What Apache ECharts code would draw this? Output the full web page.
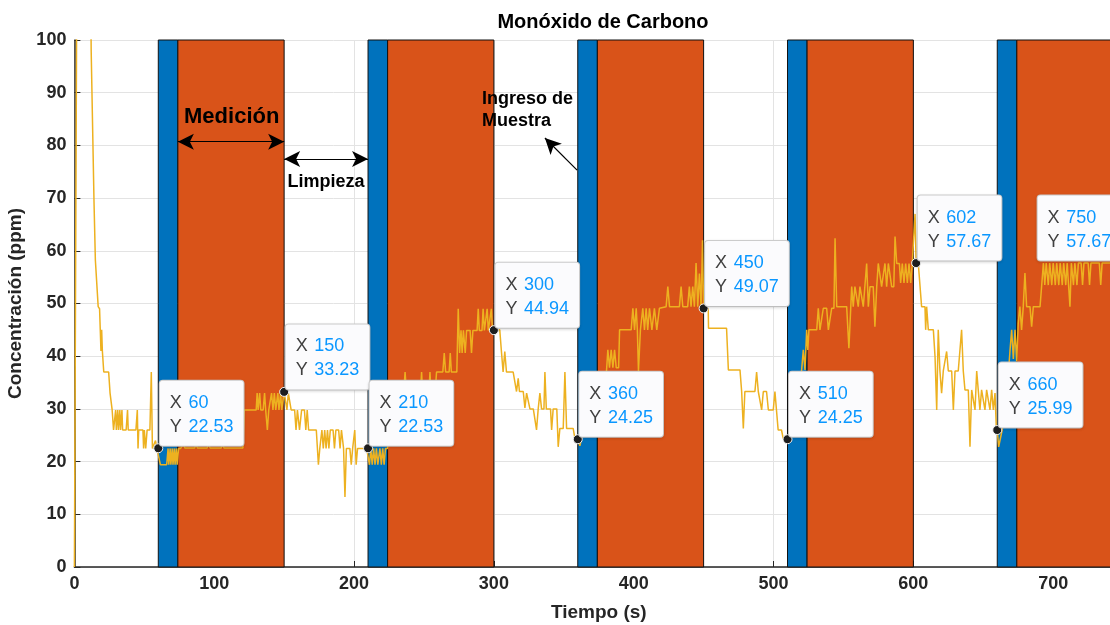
<!DOCTYPE html>
<html lang="es">
<head>
  <meta charset="UTF-8">
  <title>Monóxido de Carbono</title>
  <script src="https://cdn.jsdelivr.net/npm/echarts@6.0.0/dist/echarts.min.js"></script>
  <style>
    html, body { margin: 0; padding: 0; background: #fff; }
    #main { width: 1110px; height: 625px; }
  </style>
</head>
<body>
<div id="main"></div>
<script>
  // fases del ciclo (s): ingreso de muestra -> medición -> limpieza
  var sampleStart = [60, 210, 360, 510, 660];
  var measureStart = [74, 224, 374, 524, 674];
  var measureEnd = [150, 300, 450, 600, 750];

  // lectura del sensor [tiempo (s), CO (ppm)]
  var coReadings = [
    [0,0],[2,130],[11,130],[12,98],[14,69.6],[15,58.2],[16,58],[17,49.4],[18,49],[18.5,45],[19,41],[19.5,45],[20,41],[21,37],
    [24.5,37],[25.5,33],[26.5,33],[27,29.8],[28,26],[29,26],[29.5,29.8],[30,26],[31,29.8],[31.5,26],[32.5,29.8],[33,26],
    [34,29.8],[34.5,26],[37,26],[38,29.8],[38.5,26],[44,26],[45,29.8],[45.5,22.5],[46,26],[49,26],[49.5,22.5],[50,26],
    [51,22.5],[52,26],[54,26],[55,37],[55.8,22.5],[57,22.5],[58,24],[59,22.5],[60,22.53],
    [61.5,19.4],[66,19.4],[67,22.5],[67.5,19.4],[68.5,22.5],[69,19.4],[70,22.5],[70.5,19.4],[71.5,22.5],[72,19.4],[73,22.5],
    [73.5,19.4],[74.5,22.5],[76,22.5],[78,23.3],[79,22.6],[86,22.6],[87,23.4],[88,22.6],[95,22.6],[96,23.5],[97,22.6],
    [105,22.6],[106,23.4],[107,22.6],[120.5,22.6],[121.5,29.8],[130,29.8],[130.7,33],[131.4,29.8],[132.5,33],[133.3,29.8],
    [135,29.8],[136,33],[136.8,29.8],[138,26],[139,29.8],[141,33],[142,29.8],[143,33],[144,29.8],[145.5,33],[146.3,29.8],
    [147.5,33],[148.3,29.8],[150,33.23],
    [151,33],[152,29.8],[153,33],[155,29.8],[157.5,29.8],[158.5,26],[159.5,29.8],[161,26],[162.5,29.8],[164.5,29.8],
    [165.5,26],[166.5,29.8],[167.5,26],[173,26],[174.5,19.4],[175.5,22.5],[177,26],[178,22.5],[179,26],[180,22.5],[181,26],
    [182,22.5],[183,26],[185,26],[186,22.5],[187,26],[189,26],[190,22.5],[191,26],[192.5,22.5],[193.5,13.3],[194.5,22.5],
    [197,22.5],[198,19.4],[199,22.5],[200.5,26],[201.5,19.4],[202.5,22.5],[209,22.5],[210,22.53],
    [211,19.4],[212,22.5],[213,19.4],[214,22.5],[215,19.4],[216,22.5],[217,19.4],[218.5,22.5],[219.5,19.4],[220.5,22.5],
    [221.5,19.4],[222.5,22.5],[224,22.5],[226,29.8],[230,29.8],[232,33],[235.5,33],[236.5,37],[237.5,33],[241,33],[242,29.8],
    [243,33],[247.5,33],[248.3,37],[249,33],[253.5,33],[254.3,37],[255,33],[258,33],[259,37],[263.5,37],[264.5,40.6],
    [265.5,37],[268,37],[268.8,40.6],[269.6,37],[273.5,37],[274.5,49],[275.5,40.6],[276.5,44.9],[277.3,40.6],[278.2,44.9],
    [279.5,40.6],[280.5,44.9],[283,44.9],[284,40.6],[285,44.9],[288,44.9],[288.8,49],[289.6,44.9],[291.5,44.9],[292.3,49],
    [293.2,44.9],[295.2,49],[296,44.9],[297.2,44.9],[298.2,49],[299,44.9],[300,44.94],
    [304.2,45],[305.4,40.9],[306.6,37],[307.8,40.9],[309,37],[313.8,37],[316.2,33.3],[317.4,35.8],[318.3,33.3],[321,33.3],
    [322.2,30.2],[323.4,33],[324.6,33],[325.8,30],[328.2,30],[330.5,26],[331.7,30],[332.9,33],[334.1,30],[335.8,30],
    [336.5,37],[337.5,30],[340.5,30],[341.3,26],[342.4,30],[345,30],[346,22.8],[347.2,26.3],[349.6,26.3],[350.8,37],
    [352,26.3],[356.7,26.3],[358,24.3],[360,24.25],
    [361.5,23],[362.5,23],[364,26],[366,26],[367,29.8],[369,29.8],[370,33],[372,33],[373,29.8],[374,33],[376,33],[377,37],
    [380.5,37],[381.5,41.2],[382.7,37.8],[383.9,41.2],[385.1,37.8],[386.3,41.2],[387.5,37.8],[389.2,37.8],[389.9,45],
    [398.2,45],[399.4,49.1],[400.6,45],[401.8,49.1],[402.6,45],[403.4,37.2],[404.8,45],[405.7,45],[406.5,49.1],[407.7,45],
    [408.9,49.1],[410,45],[411.3,49.1],[413,45],[414.8,49.1],[416.5,45],[418.4,49.1],[423.2,49.4],[424.4,53.2],[425.6,49.4],
    [432.7,49.4],[433.9,53.2],[435.1,49.4],[438.6,49.4],[439.8,53.2],[441,49.4],[442.2,53.2],[443.4,49.4],[444.6,57.7],
    [445.8,49.4],[447,55.7],[448.2,49.4],[449.2,62],[450,49.07],
    [453.3,49.07],[453.5,45.3],[466.4,45.3],[467.7,37.4],[476,37.4],[477.2,33.3],[478.4,26.3],[479.5,33.3],[486.7,33.3],
    [487.9,37],[489.1,33.3],[490.5,33.3],[491.5,29.8],[492.7,33.3],[495,33.3],[496.3,29.8],[499.8,29.8],[501,33.3],
    [502.2,33.3],[503.3,26],[505.7,26],[506.9,24.4],[510,24.25],
    [511.5,24.25],[513,26],[515,29.8],[517,33],[518.5,33],[520.1,37.4],[521.3,41.2],[522.5,37.4],[523.7,45],[524.5,41.2],
    [525.3,45],[530.9,45],[532,49.1],[533.2,45],[534.5,45],[535.6,49.1],[538,49.1],[539.2,45],[540.5,45],[541.6,49.1],
    [543.2,49.1],[544,62.4],[545.2,49.4],[552.3,49.4],[553.9,41.5],[555.9,53.2],[557,49.4],[558.2,53.2],[559.5,53.2],
    [560.6,49.4],[561.8,53.2],[563,53.2],[564.2,49.4],[565.5,49.4],[566.6,57.6],[567.8,49.4],[569,53.2],[571.3,53.2],
    [572.5,45.6],[573.8,53.2],[574.9,57.6],[576.2,57.6],[577.3,53.2],[578.5,53.2],[579.7,57.6],[580.9,53.2],[582.1,57.6],
    [583.3,57.6],[584.5,53.2],[586,53.2],[586.9,62.7],[588.1,57.6],[590,57.6],[590.9,53.9],[592.1,57.6],[593.3,53.9],
    [594.5,57.6],[595.7,53.9],[596.9,57.6],[598.1,53.9],[599.2,57.6],[600.3,57.6],[601.2,67],[602,57.67],
    [603.5,57.67],[604.7,57.6],[605.9,49.4],[608.3,49.4],[608.8,45],[609.5,49.4],[610.7,45],[614.3,45],[615.5,39.9],
    [616.7,29.8],[617.8,45],[619,37.2],[620.2,33],[621.4,37.2],[622.5,37.2],[623.8,40.9],[625,37.2],[627.4,37.2],
    [628.6,29.8],[629.8,37.2],[632.1,37.2],[634.5,45],[635.7,37.2],[636.9,33.6],[639.3,33.6],[640.5,22.8],[641.7,33.6],
    [643,33.6],[644.1,29.8],[645.3,37.2],[646.4,33.6],[647.6,29.8],[648.8,33.6],[650,33.6],[651.2,29.8],[652.4,33.6],
    [653.6,33.6],[654.8,29.8],[656,33.6],[657.2,29.8],[658.4,33],[659.3,26.6],[660,25.99],
    [661,22.8],[662,22.8],[663.5,26],[665.5,30],[667,33],[668,37],[669.1,41],[670.3,45],[671.5,39.5],[672.7,45],[673.9,39],
    [675,46.2],[676.2,49.4],[677.4,45],[678.6,49.4],[679.8,55.8],[681,49.4],[683.4,49.4],[684.6,45.6],[685.8,49.4],
    [690.6,49.4],[691.8,53.5],[693,57.67],[694,53.5],[695,57.67],[696.5,53.5],[697.5,57.67],[699,53.5],[700,57.67],
    [701.5,53.5],[702.5,57.67],[704,53.5],[705,57.67],[706.5,53.5],[707.5,57.67],[709,53.5],[710,57.67],[711,53.5],
    [712,49.4],[713,57.67],[714.5,53.5],[715.5,57.67],[717,53.5],[718,57.67],[720,57.67],[721,53.5],[722,57.67],[725,57.67],
    [726,53.5],[727,57.67],[733,57.67],[734,53.5],[735,57.67],[750,57.67]
  ];

  // datatips
  var tipX = [60, 150, 210, 300, 360, 450, 510, 602, 660, 750];
  var tipY = [22.53, 33.23, 22.53, 44.94, 24.25, 49.07, 24.25, 57.67, 25.99, 57.67];

  var xTicks = [0, 100, 200, 300, 400, 500, 600, 700];
  var yTicks = [0, 10, 20, 30, 40, 50, 60, 70, 80, 90, 100];

  var FONT = '"Liberation Sans", Arial, Helvetica, sans-serif';
  var AXIS_COLOR = '#262626';

  var phaseRows = [];
  for (var i = 0; i < sampleStart.length; i++) {
    phaseRows.push([sampleStart[i], measureStart[i], 0]);
    phaseRows.push([measureStart[i], measureEnd[i], 1]);
  }

  var tipItems = tipX.map(function (x, i) {
    var item = { value: [x, tipY[i]] };
    if (i === tipX.length - 1) {
      // cerca del borde: la etiqueta va a la izquierda
      item.label = { position: [-80.5, -62.5] };
    }
    return item;
  });

  function renderPhase(params, api) {
    var p0 = api.coord([api.value(0), yTicks[yTicks.length - 1]]);
    var p1 = api.coord([api.value(1), yTicks[0]]);
    return {
      type: 'rect',
      shape: { x: p0[0], y: p0[1], width: p1[0] - p0[0], height: p1[1] - p0[1] },
      style: { fill: api.value(2) === 0 ? '#0072BD' : '#D95319', stroke: '#111', lineWidth: 1 }
    };
  }

  var chart = echarts.init(document.getElementById('main'), null, { renderer: 'canvas' });

  var option = {
    animation: false,
    backgroundColor: '#fff',
    textStyle: { fontFamily: FONT },
    title: {
      text: 'Monóxido de Carbono',
      left: 598,
      textAlign: 'center',
      top: 7,
      textStyle: { fontFamily: FONT, fontSize: 20, fontWeight: 'bold', color: '#000' }
    },
    grid: { left: 74.4, top: 40, width: 1048.7, height: 527, outerBoundsMode: 'none', containLabel: false },
    xAxis: {
      type: 'value',
      min: xTicks[0],
      max: 750,
      interval: 100,
      name: 'Tiempo (s)',
      nameLocation: 'middle',
      nameGap: 36,
      nameTextStyle: { fontFamily: FONT, fontSize: 19, fontWeight: 'bold', color: AXIS_COLOR },
      axisLine: { show: true, lineStyle: { color: AXIS_COLOR, width: 1.5 } },
      axisTick: { show: true, inside: true, length: 6, lineStyle: { color: AXIS_COLOR } },
      axisLabel: {
        margin: 8, fontFamily: FONT, fontSize: 18, fontWeight: 'bold', color: AXIS_COLOR,
        showMaxLabel: false
      },
      splitLine: { show: true, lineStyle: { color: '#e3e3e3', width: 1 } }
    },
    yAxis: {
      type: 'value',
      min: yTicks[0],
      max: yTicks[yTicks.length - 1],
      interval: 10,
      name: 'Concentración (ppm)',
      nameLocation: 'middle',
      nameGap: 44,
      nameTextStyle: { fontFamily: FONT, fontSize: 19, fontWeight: 'bold', color: AXIS_COLOR },
      axisLine: { show: true, lineStyle: { color: AXIS_COLOR, width: 1.5 } },
      axisTick: { show: true, inside: true, length: 6, lineStyle: { color: AXIS_COLOR } },
      axisLabel: { margin: 8, fontFamily: FONT, fontSize: 18, fontWeight: 'bold', color: AXIS_COLOR },
      splitLine: { show: true, lineStyle: { color: '#e3e3e3', width: 1 } }
    },
    series: [
      {
        type: 'custom',
        name: 'fases',
        renderItem: renderPhase,
        encode: { x: [0, 1] },
        data: phaseRows,
        silent: true,
        z: 1
      },
      {
        type: 'line',
        name: 'CO',
        data: coReadings,
        showSymbol: false,
        symbol: 'none',
        lineStyle: { color: '#EDB120', width: 1.5 },
        silent: true,
        z: 3,
        markLine: {
          silent: true,
          symbolSize: [12, 16],
          label: { show: false },
          lineStyle: { color: '#000', width: 1.2, type: 'solid' },
          emphasis: { disabled: true },
          data: [
            [{ coord: [74, 80.7], symbol: 'arrow' }, { coord: [150, 80.7], symbol: 'arrow' }],
            [{ coord: [150, 77.4], symbol: 'arrow' }, { coord: [210, 77.4], symbol: 'arrow' }],
            [{ coord: [359.5, 75.3], symbol: 'none' }, { coord: [336.5, 81.4], symbol: 'arrow' }]
          ]
        },
        markPoint: {
          silent: true,
          symbol: 'circle',
          symbolSize: 0,
          itemStyle: { color: 'transparent' },
          data: [
            { coord: [112.5, 85.4], label: { show: true, position: 'inside', formatter: 'Medición',
              fontFamily: FONT, fontSize: 22, fontWeight: 'bold', color: '#000' } },
            { coord: [180, 73.1], label: { show: true, position: 'inside', formatter: 'Limpieza',
              fontFamily: FONT, fontSize: 18, fontWeight: 'bold', color: '#000' } },
            { coord: [291.5, 86.8], label: { show: true, position: 'right', distance: 0,
              formatter: 'Ingreso de\nMuestra', lineHeight: 22, align: 'left',
              fontFamily: FONT, fontSize: 18, fontWeight: 'bold', color: '#000' } }
          ]
        }
      },
      {
        type: 'scatter',
        name: 'datatips',
        data: tipItems,
        symbol: 'circle',
        symbolSize: 9,
        silent: true,
        z: 5,
        itemStyle: { color: '#1e1e1e', borderColor: '#f4f4f4', borderWidth: 1, opacity: 1 },
        label: {
          show: true,
          opacity: 1,
          position: [6.5, -62.5],
          align: 'left',
          verticalAlign: 'top',
          backgroundColor: '#fbfbfd',
          borderColor: '#cfcfcf',
          borderWidth: 1,
          borderRadius: 3,
          padding: [10, 10, 7, 10],
          shadowColor: 'rgba(0,0,0,0.12)',
          shadowBlur: 3,
          shadowOffsetY: 1,
          lineHeight: 24,
          formatter: function (p) {
            return '{k|X}  {v|' + p.value[0] + '}\n{k|Y}  {v|' + p.value[1].toFixed(2) + '}';
          },
          rich: {
            k: { fontFamily: FONT, fontSize: 18, color: '#404040', lineHeight: 24 },
            v: { fontFamily: FONT, fontSize: 18, color: '#0A97FF', lineHeight: 24 }
          }
        }
      }
    ]
  };

  chart.setOption(option);
</script>
</body>
</html>
